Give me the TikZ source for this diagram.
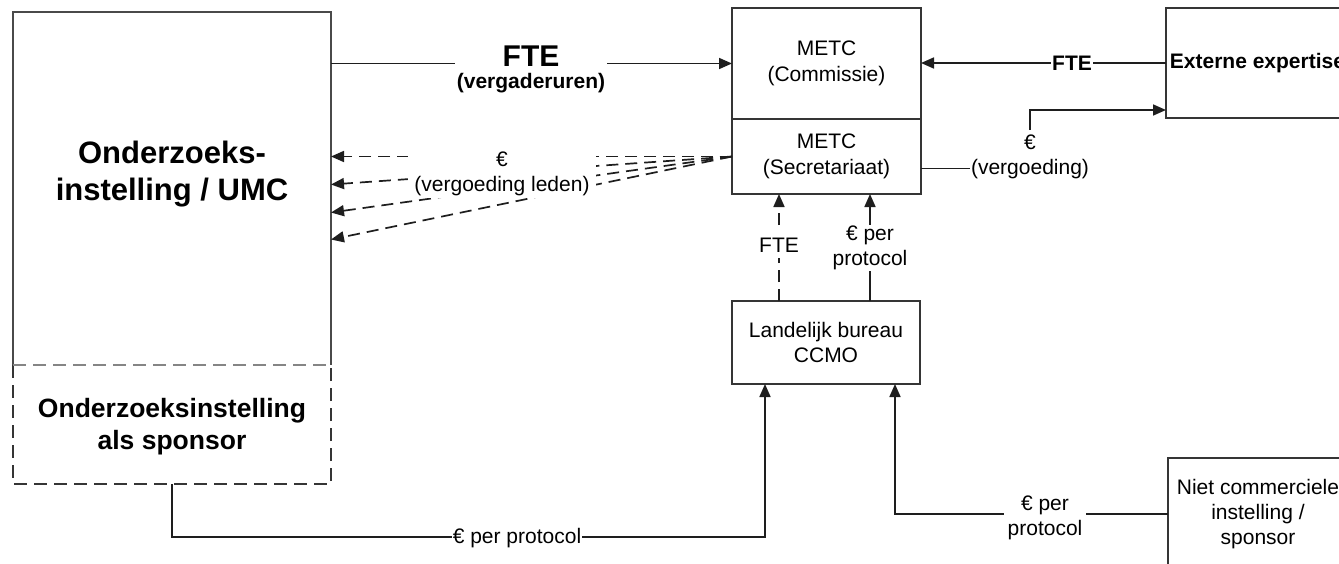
\documentclass[tikz,border=0pt]{standalone}
\usepackage{fontspec}
\setmainfont{Liberation Sans}
\usetikzlibrary{arrows.meta,calc}
\definecolor{boxc}{HTML}{353535}
\definecolor{linec}{HTML}{1E1E1E}
\definecolor{topc}{HTML}{4A4A4A}
\definecolor{divc}{HTML}{858585}
\begin{document}
\begin{tikzpicture}[x=1pt,y=-1pt,
  reg/.style={font=\fontsize{21}{25.5}\selectfont, align=center},
  regb/.style={font=\fontsize{21}{25.5}\selectfont\bfseries, align=center},
  box/.style={draw=boxc, line width=1.9pt, inner sep=0pt, outer sep=0pt, reg},
  area/.style={inner sep=0pt, outer sep=0pt, minimum width=318pt, anchor=north west},
  conn/.style={draw=linec, line width=1.7pt},
  arr/.style={conn, -{Triangle[length=13pt,width=11pt]}},
  dasharr/.style={arr, dash pattern=on 12pt off 7pt},
  lbl/.style={reg, fill=white, inner xsep=2pt, inner ysep=2pt},
]
\useasboundingbox (0,0) rectangle (1339,563);
\clip (0,0) rectangle (1339,563);
\fill[white] (0,0) rectangle (1339,563);

% left organisation box
\node[area, minimum height=353pt] (umcbox) at (13,12) {};
\node[area, minimum height=119pt] (sponbox) at (13,365) {};
\draw[topc, line width=1.9pt] (umcbox.south west) -- (umcbox.north west) -- (umcbox.north east) -- (umcbox.south east);
\draw[boxc, line width=1.9pt, dash pattern=on 13pt off 7pt] (sponbox.north west) -- (sponbox.south west) -- (sponbox.south east) -- (sponbox.north east);
\draw[divc, line width=1.9pt, dash pattern=on 13pt off 7pt] (sponbox.north west) -- (sponbox.north east);
\node[font=\fontsize{31}{37}\selectfont\bfseries, align=center] (umc) at (172,174.5) {Onderzoeks-\\instelling / UMC};
\node[font=\fontsize{26.5}{32}\selectfont\bfseries, align=center] (spons) at (172,426.5) {Onderzoeksinstelling\\als sponsor};

% METC, CCMO, external boxes
\node[box, minimum width=189pt, minimum height=111pt] (metc1) at (826.5,63.5) {METC\\(Commissie)};
\node[box, minimum width=189pt, minimum height=75pt] (secr) at (826.5,156.5) {METC\\(Secretariaat)};
\node[box, minimum width=188pt, minimum height=83pt] (ccmo) at (826,342.5) {Landelijk bureau\\CCMO};
\node[box, minimum width=183pt, minimum height=110pt, regb] (ext) at (1257.5,63) {Externe expertise};
\node[box, minimum width=181pt, minimum height=182pt, anchor=north west] (nietbox) at (1168,458) {};
\node[reg, font=\fontsize{21}{25}\selectfont] (niet) at (1258,514) {Niet commerciele\\instelling /\\sponsor};

% helper coordinates
\coordinate (xF) at (779,0);
\coordinate (xE) at (870,0);
\coordinate (xB) at (765,0);
\coordinate (xN) at (895,0);
\coordinate (vgturn) at (1030,110);

% connectors
\draw[arr] (umcbox.east |- metc1.west) -- (metc1.west);
\draw[arr] (ext.west) -- (ext.west -| metc1.east);
\draw[arr] ($(secr.east)+(0,12)$) -| (vgturn) -- (vgturn -| ext.west);
\draw[dasharr] (secr.west) -- (umcbox.east |- secr.west);
\draw[dasharr] (secr.west) -- ($(umcbox.east |- secr.west)+(0,28)$);
\draw[dasharr] (secr.west) -- ($(umcbox.east |- secr.west)+(0,56)$);
\draw[dasharr] (secr.west) -- ($(umcbox.east |- secr.west)+(0,83)$);
\draw[dasharr] (ccmo.north -| xF) -- (secr.south -| xF);
\draw[arr] (ccmo.north -| xE) -- (secr.south -| xE);
\draw[arr] (sponbox.south) -- ++(0,53) -| (ccmo.south -| xB);
\draw[arr] (nietbox.west |- niet.center) -| (ccmo.south -| xN);

% labels
\node[font=\fontsize{30}{36}\selectfont\bfseries, fill=white, minimum width=152pt, inner sep=1pt] (fteT) at (531,56) {FTE};
\node[regb, inner sep=0pt] (fteV) at (531,83) {(vergaderuren)};
\node[regb, fill=white, inner xsep=1.5pt, inner ysep=2pt] (fteR) at (1072,63) {FTE};
\node[lbl, inner xsep=6.5pt] (vl) at (502,174) {€\\(vergoeding leden)};
\node[lbl, inner xsep=1pt, inner ysep=5pt] (vg) at (1030,157) {€\\(vergoeding)};
\node[lbl, inner ysep=5.5pt] (fteD) at (779,245) {FTE};
\node[lbl, inner ysep=1pt] (ppM) at (870,248) {€ per\\protocol};
\node[lbl, inner xsep=0.5pt, inner ysep=1pt] (ppB) at (517,538) {€ per protocol};
\node[lbl, inner xsep=4pt] (ppN) at (1045,518) {€ per\\protocol};
\end{tikzpicture}
\end{document}
